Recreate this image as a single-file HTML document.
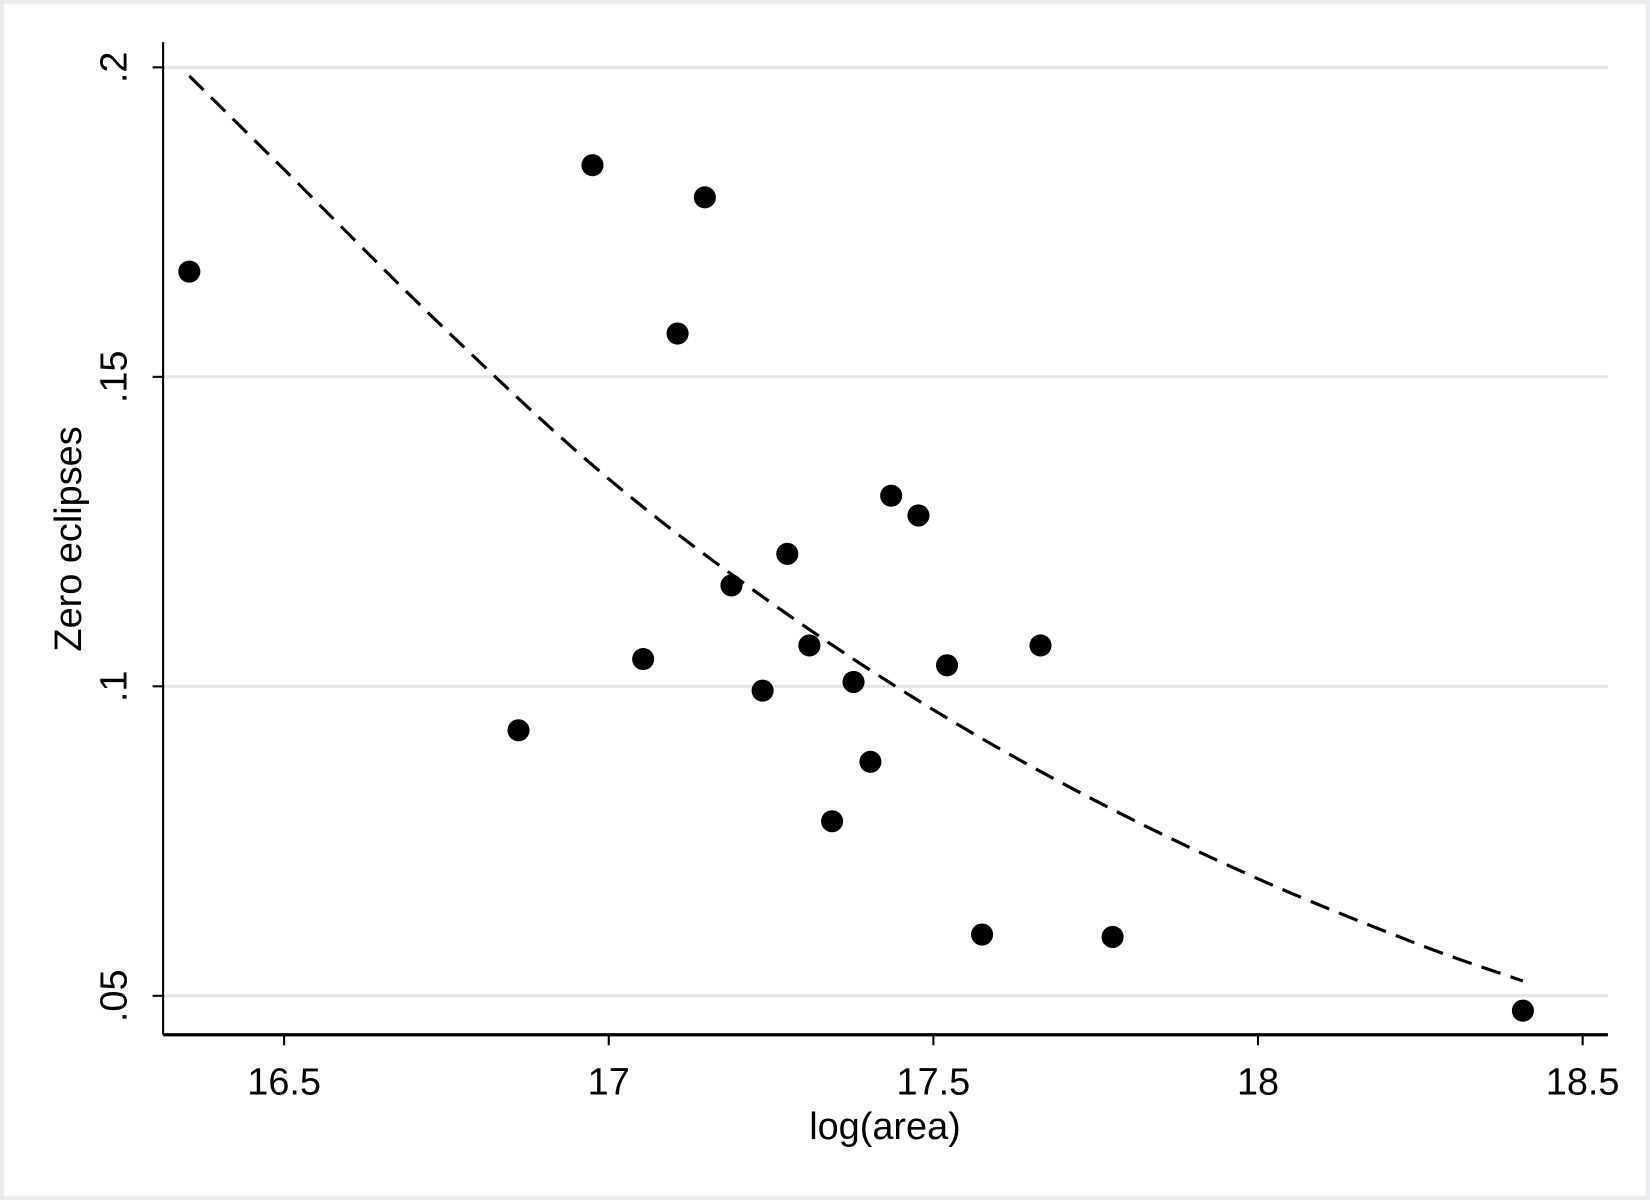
<!DOCTYPE html>
<html><head><meta charset="utf-8"><style>
html,body{margin:0;padding:0;background:#fff;}
svg{display:block;font-family:"Liberation Sans",Arial,sans-serif;}
</style></head><body>
<svg id="chart" width="1650" height="1200" viewBox="0 0 1568 1140" preserveAspectRatio="none" xmlns="http://www.w3.org/2000/svg">
<rect x="0" y="0" width="1568" height="1140" fill="#eaedf0"/>
<rect x="4" y="4" width="1560" height="1132" fill="#ffffff"/>
<g id="grid"></g>
<g id="axes"></g>
<g id="fit"></g>
<g id="points"></g>
<text x="841" y="1082" font-size="36" text-anchor="middle">log(area)</text>
<text transform="translate(77,512) rotate(-90)" font-size="36" text-anchor="middle">Zero eclipses</text>
</svg>
<script>
const xTicks = [16.5, 17, 17.5, 18, 18.5];
const xTickLabels = ["16.5", "17", "17.5", "18", "18.5"];
const yTicks = [0.05, 0.1, 0.15, 0.2];
const yTickLabels = [".05", ".1", ".15", ".2"];
const logArea = [16.354, 16.975, 17.148, 17.106, 17.435, 17.477, 17.275, 17.189, 17.309, 17.053, 17.665, 17.521, 17.237, 17.377, 16.861, 17.403, 17.344, 17.575, 17.776, 18.408];
const zeroEclipses = [0.167, 0.1842, 0.179, 0.157, 0.1308, 0.1276, 0.1214, 0.1163, 0.1066, 0.1044, 0.1066, 0.1034, 0.0993, 0.1007, 0.0929, 0.0878, 0.0782, 0.0599, 0.0595, 0.0476];
const fitX = [16.354, 16.5, 16.75, 17.0, 17.25, 17.5, 17.75, 18.0, 18.25, 18.408];
const fitY = [0.1986, 0.1835, 0.1575, 0.1335, 0.1135, 0.0962, 0.0815, 0.0689, 0.0582, 0.0524];

const NS = "http://www.w3.org/2000/svg";
const X0 = 155, X1 = 1528, Y0 = 40, Y1 = 983;
function xs(v){ return 270 + (v - 16.5) * 617; }
function ys(v){ return 64 + (0.2 - v) * 5880; }
function mk(tag, attrs, parent){ const e = document.createElementNS(NS, tag); for (const k in attrs) e.setAttribute(k, attrs[k]); parent.appendChild(e); return e; }

const grid = document.getElementById('grid');
const axes = document.getElementById('axes');
yTicks.forEach((t, i) => {
  const g = mk('line', {x1: X0, x2: X1, y1: ys(t), y2: ys(t), stroke: '#e6e6e6', 'stroke-width': 3}, grid);
  
  
  const tk = mk('line', {x1: X0 - 10, x2: X0, y1: ys(t), y2: ys(t), stroke: '#000', 'stroke-width': 2}, axes);
  
  
  const lb = mk('text', {transform: 'translate(120,' + ys(t) + ') rotate(-90)', 'font-size': 36, 'text-anchor': 'middle'}, axes);
  lb.textContent = yTickLabels[i];
  
  
});
xTicks.forEach((t, i) => {
  const tk = mk('line', {x1: xs(t), x2: xs(t), y1: Y1, y2: Y1 + 10, stroke: '#000', 'stroke-width': 2}, axes);
  
  
  const lb = mk('text', {x: xs(t), y: 1040, 'font-size': 36, 'text-anchor': 'middle'}, axes);
  lb.textContent = xTickLabels[i];
  
  
});
const ya = mk('line', {x1: X0, x2: X0, y1: Y0, y2: Y1, stroke: '#000', 'stroke-width': 2}, axes);


const xa = mk('line', {x1: X0, x2: X1, y1: Y1, y2: Y1, stroke: '#000', 'stroke-width': 3}, axes);



const pts = fitX.map((x, i) => [xs(x), ys(fitY[i])]);
let d = 'M' + pts[0][0] + ',' + pts[0][1];
for (let i = 0; i < pts.length - 1; i++) {
  const p0 = pts[Math.max(i - 1, 0)], p1 = pts[i], p2 = pts[i + 1], p3 = pts[Math.min(i + 2, pts.length - 1)];
  const c1 = [p1[0] + (p2[0] - p0[0]) / 6, p1[1] + (p2[1] - p0[1]) / 6];
  const c2 = [p2[0] - (p3[0] - p1[0]) / 6, p2[1] - (p3[1] - p1[1]) / 6];
  d += ' C' + c1[0] + ',' + c1[1] + ' ' + c2[0] + ',' + c2[1] + ' ' + p2[0] + ',' + p2[1];
}
const fit = mk('path', {d: d, fill: 'none', stroke: '#000', 'stroke-width': 3, 'stroke-dasharray': '19 10'}, document.getElementById('fit'));



const pg = document.getElementById('points');
logArea.forEach((x, i) => {
  const c = mk('circle', {cx: xs(x), cy: ys(zeroEclipses[i]), r: 10.5, fill: '#000'}, pg);
  
  
});
</script>
</body></html>
